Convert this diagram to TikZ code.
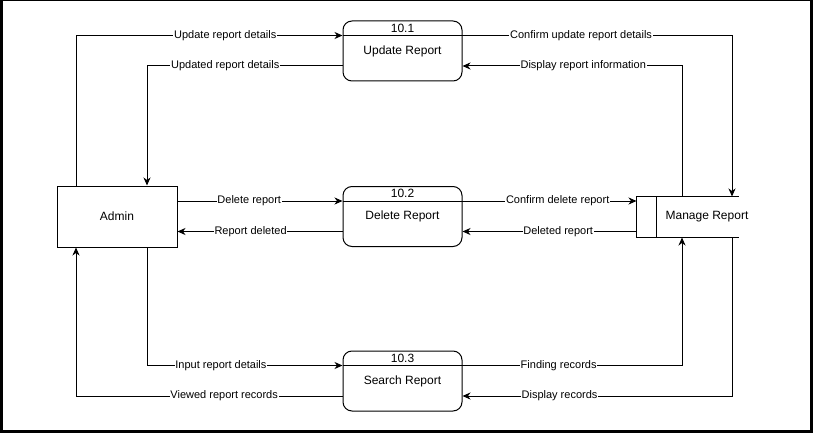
\documentclass[tikz,border=0pt]{standalone}
\usepackage{fontspec}
\setmainfont{Liberation Sans}
\usetikzlibrary{arrows.meta,calc}
\begin{document}
\begin{tikzpicture}[x=1pt,y=-1pt,line width=1pt,
  proc/.style={draw,rounded corners=9pt,minimum width=119pt,minimum height=60pt,inner sep=0pt,font=\fontsize{12}{14}\selectfont},
  ent/.style={draw,minimum width=120pt,minimum height=61pt,inner sep=0pt,font=\fontsize{12}{14}\selectfont},
  num/.style={inner sep=0pt,font=\fontsize{12}{14}\selectfont},
  lab/.style={fill=white,inner sep=0.8pt,font=\fontsize{11}{13}\selectfont},
  flow/.style={-{Stealth[length=8pt,width=7pt,inset=2.5pt]}},
  plain/.style={}]
\useasboundingbox (0,0) rectangle (813,433);
\fill[black] (0,0) rectangle (813,433);
\fill[white] (3,1.5) rectangle (810,430);
% nodes
\node[ent] (admin) at (117,216.5) {Admin};
\node[proc] (upd) at (402.5,51) {Update Report};
\node[proc] (del) at (402.5,216.5) {Delete Report};
\node[proc] (srch) at (402.5,381) {Search Report};
\node[minimum width=101pt,minimum height=40pt,inner sep=0pt] (ms) at (687.5,217) {};
\node[num] (mstext) at (707,217) {Manage Report};
\draw (ms.north east) -- (ms.north west) -- (ms.south west) -- (ms.south east);
\draw ([xshift=20pt]ms.north west) -- ([xshift=20pt]ms.south west);
% divider coordinates
\coordinate (u1) at ($(upd.north west)+(0,15)$);
\coordinate (u1r) at ($(upd.north east)+(0,15)$);
\coordinate (d1) at ($(del.north west)+(0,15)$);
\coordinate (d1r) at ($(del.north east)+(0,15)$);
\coordinate (s1) at ($(srch.north west)+(0,15)$);
\coordinate (s1r) at ($(srch.north east)+(0,15)$);
\coordinate (d2) at ([yshift=-15pt]del.west);
\coordinate (d2r) at ([yshift=-15pt]del.east);
\draw (u1) -- (u1r);
\draw (d1) -- (d1r);
\draw (s1) -- (s1r);
\node[num] (n1) at ($(upd.north)+(0,7.5)$) {10.1};
\node[num] (n2) at ($(del.north)+(0,7.5)$) {10.2};
\node[num] (n3) at ($(srch.north)+(0,7.5)$) {10.3};
% connectors
\draw[flow] ([xshift=-41pt]admin.north) |- node[lab,pos=0.78]{Update report details} (u1);
\draw[flow] ([yshift=-15pt]upd.west) -| node[lab,pos=0.30]{Updated report details} ([xshift=30pt]admin.north);
\draw[flow] (u1r) -| node[lab,pos=0.22]{Confirm update report details} ([xshift=44.5pt]ms.north);
\draw[flow] ([xshift=-5.5pt]ms.north) |- node[lab,pos=0.725]{Display report information} ([yshift=-15pt]upd.east);
\draw[flow] (admin.east |- d1) -- node[lab,pos=0.435]{Delete report} (d1);
\draw[flow] (d2) -- node[lab,pos=0.557]{Report deleted} (admin.east |- d2);
\draw[flow] (d1r) -- node[lab,pos=0.547]{Confirm delete report} (ms.west |- d1r);
\draw[flow] (ms.west |- d2r) -- node[lab,pos=0.45]{Deleted report} (d2r);
\draw[flow] ([xshift=30pt]admin.south) |- node[lab,pos=0.689]{Input report details} (s1);
\draw[flow] ([yshift=-15pt]srch.west) -| node[lab,pos=0.222]{Viewed report records} ([xshift=-41pt]admin.south);
\draw[flow] (s1r) -| node[lab,pos=0.219]{Finding records} ([xshift=-5.5pt]ms.south);
\draw[flow] ([xshift=44.5pt]ms.south) |- node[lab,pos=0.82]{Display records} ([yshift=-15pt]srch.east);
\end{tikzpicture}
\end{document}
